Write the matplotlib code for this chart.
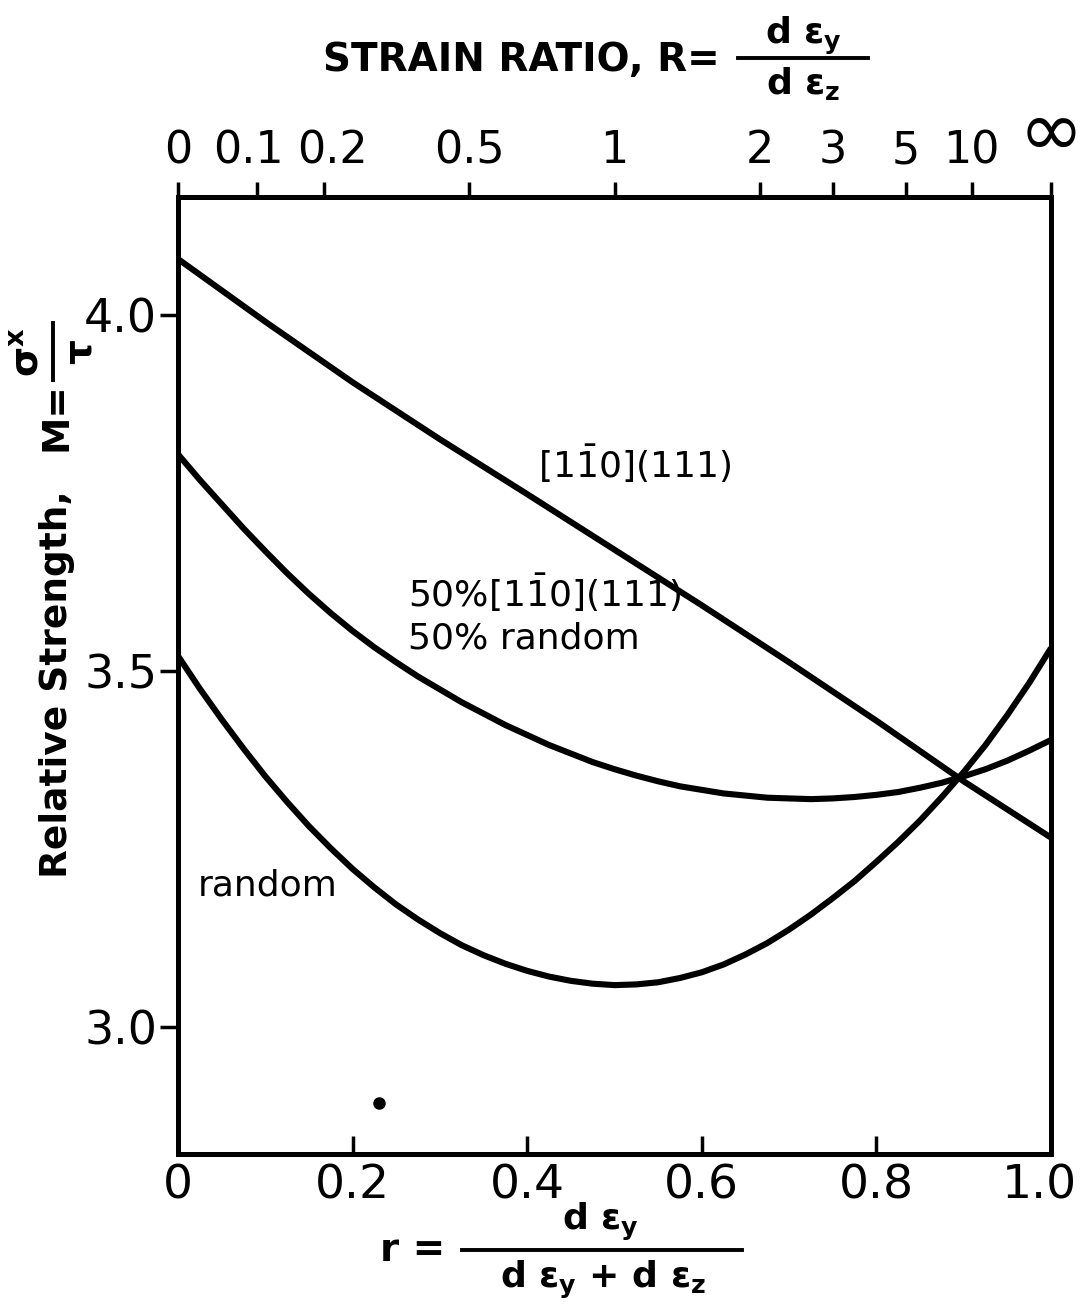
import matplotlib
matplotlib.use("Agg")
import matplotlib.pyplot as plt
from matplotlib.lines import Line2D
from matplotlib.transforms import offset_copy

plt.rcParams['font.family'] = ['DejaVu Sans']
plt.rcParams['mathtext.fontset'] = 'dejavusans'
plt.rcParams['mathtext.default'] = 'regular'

# values
r_top = [0, 0.1, 0.2, 0.3, 0.4, 0.5, 0.6, 0.7, 0.8, 0.9, 1.0]
m_top = [4.078, 3.990, 3.905, 3.825, 3.748, 3.670, 3.592, 3.512, 3.430, 3.345, 3.266]

r_fine = [0, 0.025, 0.05, 0.075, 0.1, 0.125, 0.15, 0.175, 0.2, 0.225, 0.25,
          0.275, 0.3, 0.325, 0.35, 0.375, 0.4, 0.425, 0.45, 0.475, 0.5,
          0.525, 0.55, 0.575, 0.6, 0.625, 0.65, 0.675, 0.7, 0.725, 0.75,
          0.775, 0.8, 0.825, 0.85, 0.875, 0.9, 0.925, 0.95, 0.975, 1.0]
m_mix = [3.804, 3.768, 3.734, 3.700, 3.668, 3.637, 3.608, 3.581, 3.556, 3.533, 3.512,
         3.492, 3.474, 3.456, 3.440, 3.424, 3.410, 3.396, 3.384, 3.372, 3.362,
         3.353, 3.345, 3.338, 3.333, 3.328, 3.325, 3.322, 3.321, 3.320, 3.321,
         3.323, 3.326, 3.330, 3.336, 3.343, 3.352, 3.362, 3.374, 3.388, 3.403]
m_random = [3.521, 3.475, 3.432, 3.391, 3.352, 3.316, 3.282, 3.251, 3.222, 3.196, 3.172,
            3.151, 3.132, 3.115, 3.101, 3.089, 3.079, 3.071, 3.065, 3.061, 3.059,
            3.060, 3.063, 3.069, 3.077, 3.088, 3.102, 3.118, 3.137, 3.158, 3.181,
            3.205, 3.232, 3.260, 3.290, 3.323, 3.358, 3.396, 3.438, 3.483, 3.532]

dot_r = [0.23]
dot_m = [2.894]

bottom_ticks = [0, 0.2, 0.4, 0.6, 0.8, 1.0]
bottom_labels = ['0', '0.2', '0.4', '0.6', '0.8', '1.0']
left_ticks = [3.0, 3.5, 4.0]
left_labels = ['3.0', '3.5', '4.0']
R_ticks = [0, 0.1, 0.2, 0.5, 1, 2, 3, 5, 10]
R_labels = ['0', '0.1', '0.2', '0.5', '1', '2', '3', '5', '10', '\u221e']

W, H = 1087, 1307
fig = plt.figure(figsize=(W / 100, H / 100), dpi=100)
ax = fig.add_axes([178 / W, 1 - 1154 / H, (1051 - 178) / W, (1154 - 197) / H])


def px(x, y):
    # pixel position (from top-left) -> figure fraction
    return x / W, 1 - y / H


lw = 4.4
ax.plot(r_top, m_top, color='black', lw=lw, solid_joinstyle='round', solid_capstyle='butt')
ax.plot(r_fine, m_mix, color='black', lw=lw, solid_joinstyle='round', solid_capstyle='butt')
ax.plot(r_fine, m_random, color='black', lw=lw, solid_joinstyle='round', solid_capstyle='butt')
ax.plot(dot_r, dot_m, 'o', color='black', ms=8)

ax.set_xlim(0, 1.0)
ax.set_ylim(2.822, 4.165)

for s in ax.spines.values():
    s.set_linewidth(3.6)

ax.set_xticks(bottom_ticks)
ax.set_xticklabels(bottom_labels)
ax.set_yticks(left_ticks)
ax.set_yticklabels(left_labels)
ax.tick_params(axis='x', direction='in', length=13, width=2.5, pad=7, labelsize=34)
ax.tick_params(axis='y', direction='out', length=13, width=2.5, pad=2, labelsize=33)
for lab in ax.get_xticklabels():
    if lab.get_text() == '1.0':
        lab.set_transform(offset_copy(lab.get_transform(), fig=fig, x=-12, y=0, units='dots'))

# top axis in R = r/(1-r)
ax2 = ax.twiny()
ax2.set_xlim(0, 1.0)
top_pos = [R / (1 + R) for R in R_ticks] + [1.0]
ax2.set_xticks(top_pos)
ax2.set_xticklabels(R_labels)
ax2.tick_params(axis='x', direction='out', length=11, width=2.5, pad=7, labelsize=32)
for lab in ax2.get_xticklabels():
    t = lab.get_text()
    if t == '\u221e':
        lab.set_fontsize(56)
    elif t == '0.1':
        lab.set_transform(offset_copy(lab.get_transform(), fig=fig, x=-9, y=0, units='dots'))
    elif t == '0.2':
        lab.set_transform(offset_copy(lab.get_transform(), fig=fig, x=9, y=0, units='dots'))

# curve labels
lab_fs = 26
ax.text(0.523, 3.791, r'$[1\bar{1}0]$(111)', fontsize=lab_fs, ha='center', va='center')
ax.text(0.263, 3.609, r'50%$[1\bar{1}0]$(111)', fontsize=lab_fs, ha='left', va='center')
ax.text(0.263, 3.545, '50% random', fontsize=lab_fs, ha='left', va='center')
ax.text(0.023, 3.199, 'random', fontsize=lab_fs, ha='left', va='center')


def bar(x0, y0, x1, y1):
    fig.add_artist(Line2D([x0 / W, x1 / W], [1 - y0 / H, 1 - y1 / H],
                          transform=fig.transFigure, color='black', lw=2.8))


# top title with fraction
fig.text(*px(720, 60), 'STRAIN RATIO, R=', fontsize=28, fontweight='bold', ha='right', va='center')
fig.text(*px(803, 36), r'd ε$_y$', fontsize=26, fontweight='bold', ha='center', va='center')
bar(738, 58, 868, 58)
fig.text(*px(803, 84), r'd ε$_z$', fontsize=26, fontweight='bold', ha='center', va='center')

# bottom label with fraction
fig.text(*px(445, 1250), 'r =', fontsize=28, fontweight='bold', ha='right', va='center')
fig.text(*px(600, 1222), r'd ε$_y$', fontsize=26, fontweight='bold', ha='center', va='center')
bar(462, 1250, 742, 1250)
fig.text(*px(603, 1280), r'd ε$_y$ + d ε$_z$', fontsize=26, fontweight='bold', ha='center', va='center')

# left label with fraction
fig.text(*px(57, 878), 'Relative Strength,', fontsize=27, fontweight='bold',
         rotation=90, ha='center', va='bottom')
fig.text(*px(57, 417), 'M=', fontsize=27, fontweight='bold', rotation=90, ha='center', va='center')
fig.text(*px(28, 352), r'σ$^x$', fontsize=28, fontweight='bold', rotation=90, ha='center', va='center')
bar(53, 323, 53, 380)
fig.text(*px(80, 352), 'τ', fontsize=28, fontweight='bold', rotation=90, ha='center', va='center')

fig.savefig('out.png', dpi=100, facecolor='white')
